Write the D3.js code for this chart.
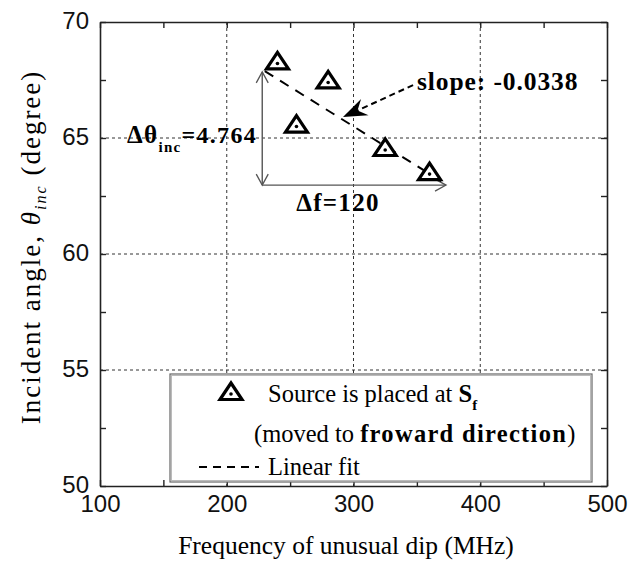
<!DOCTYPE html>
<html><head><meta charset="utf-8">
<script src="https://cdn.jsdelivr.net/npm/d3@7"></script>
<style>
html,body{margin:0;padding:0;background:#fff;}
svg{display:block;}
</style></head>
<body>
<svg id="chart" width="631" height="562"></svg>
<script>
// ---- data ----
const freq = [240, 280, 255, 325, 360];
const angle = [68.3, 67.48, 65.58, 64.57, 63.53];
const fitFreq = [230, 370];
const fitAngle = [67.88, 63.12];
const xTicks = [100, 200, 300, 400, 500];
const yTicks = [50, 55, 60, 65, 70];
const xMinor = [150, 250, 350, 450];
const yMinor = [52.5, 57.5, 62.5, 67.5];
const arrowV = [[228, 67.85], [228, 62.97]];
const arrowH = [[228, 62.97], [373, 62.97]];
const slopeArrow = [[347, 67.28], [291.7, 65.9]];

const svg = d3.select("#chart");
const L = 100, R = 607, T = 22, B = 486;
const x = d3.scaleLinear().domain([100, 500]).range([L, R]);
const y = d3.scaleLinear().domain([50, 70]).range([B, T]);

const serif = "'Liberation Serif','Times New Roman',serif";
const sans = "'Liberation Sans',Arial,sans-serif";

// grid
const g = svg.append("g");
g.selectAll(".gx").data(xTicks.slice(1, -1)).enter().append("line")
  .attr("x1", d => x(d)).attr("x2", d => x(d)).attr("y1", T).attr("y2", B)
  .attr("stroke", "#333").attr("stroke-width", 1).attr("stroke-dasharray", "3,3");
g.selectAll(".gy").data(yTicks.slice(1, -1)).enter().append("line")
  .attr("y1", d => y(d)).attr("y2", d => y(d)).attr("x1", L).attr("x2", R)
  .attr("stroke", "#333").attr("stroke-width", 1).attr("stroke-dasharray", "3,3");

// axes with inward ticks
const tl = 6;
const allX = xTicks.concat(xMinor), allY = yTicks.concat(yMinor);
const axB = svg.append("g").attr("transform", `translate(0,${B})`)
  .call(d3.axisBottom(x).tickValues(allX).tickSizeInner(-tl).tickSizeOuter(0).tickFormat(d => xTicks.includes(d) ? d : ""));
const axT = svg.append("g").attr("transform", `translate(0,${T})`)
  .call(d3.axisTop(x).tickValues(allX).tickSizeInner(-tl).tickSizeOuter(0).tickFormat(""));
const axL = svg.append("g").attr("transform", `translate(${L},0)`)
  .call(d3.axisLeft(y).tickValues(allY).tickSizeInner(-tl).tickSizeOuter(0).tickFormat(d => yTicks.includes(d) ? d : ""));
const axR = svg.append("g").attr("transform", `translate(${R},0)`)
  .call(d3.axisRight(y).tickValues(allY).tickSizeInner(-tl).tickSizeOuter(0).tickFormat(""));
[axB, axT, axL, axR].forEach(a => {
  a.select(".domain").attr("stroke", "#222").attr("stroke-width", 1.6);
  a.selectAll(".tick line").attr("stroke", "#222").attr("stroke-width", 1.4);
  a.selectAll(".tick text").attr("font-family", sans).attr("font-size", 24).attr("fill", "#111");
});
axB.selectAll(".tick text").attr("dy", "0.71em").attr("y", 9);
axL.selectAll(".tick text").attr("x", -11).attr("dy", "0.26em");

// open arrowhead marker
const defs = svg.append("defs");
defs.append("marker").attr("id", "openArrow").attr("viewBox", "-12 -7 14 14")
  .attr("refX", 0).attr("refY", 0).attr("markerWidth", 14).attr("markerHeight", 14)
  .attr("markerUnits", "userSpaceOnUse").attr("orient", "auto-start-reverse")
  .append("path").attr("d", "M-11,-6 L0,0 L-11,6").attr("fill", "none").attr("stroke", "#555").attr("stroke-width", 1.3);

// delta arrows
const lineGen = d3.line().x(d => x(d[0])).y(d => y(d[1]));
svg.append("path").attr("d", lineGen(arrowV)).attr("stroke", "#555").attr("stroke-width", 1.4).attr("fill", "none")
  .attr("marker-start", "url(#openArrow)").attr("marker-end", "url(#openArrow)");
svg.append("path").attr("d", lineGen(arrowH)).attr("stroke", "#555").attr("stroke-width", 1.4).attr("fill", "none")
  .attr("marker-end", "url(#openArrow)");

// fit line
svg.append("path").attr("d", lineGen(fitFreq.map((f, i) => [f, fitAngle[i]])))
  .attr("stroke", "#000").attr("stroke-width", 2).attr("stroke-dasharray", "10,8").attr("fill", "none");

// slope arrow (dashed shaft + filled head)
const sx0 = x(slopeArrow[0][0]), sy0 = y(slopeArrow[0][1]);
const sx1 = x(slopeArrow[1][0]), sy1 = y(slopeArrow[1][1]);
const ang = Math.atan2(sy1 - sy0, sx1 - sx0) * 180 / Math.PI;
const len = Math.hypot(sx1 - sx0, sy1 - sy0);
svg.append("line").attr("x1", sx0).attr("y1", sy0)
  .attr("x2", sx0 + (sx1 - sx0) * (len - 14) / len).attr("y2", sy0 + (sy1 - sy0) * (len - 14) / len)
  .attr("stroke", "#000").attr("stroke-width", 2).attr("stroke-dasharray", "6,4");
svg.append("path").attr("d", "M0,0 L-24,-9 L-16,0 L-24,9 Z").attr("fill", "#000")
  .attr("transform", `translate(${sx1},${sy1}) rotate(${ang})`);

// triangle markers
function tri(sel) {
  sel.append("path").attr("d", "M0,-9 L11,7.5 L-11,7.5 Z")
    .attr("fill", "#fff").attr("stroke", "#000").attr("stroke-width", 3.2).attr("stroke-linejoin", "miter");
  sel.append("circle").attr("cx", 0).attr("cy", 2).attr("r", 1.8).attr("fill", "#000");
}
const pts = svg.selectAll(".pt").data(freq.map((f, i) => [f, angle[i]])).enter().append("g")
  .attr("transform", d => `translate(${x(d[0])},${y(d[1])})`);
tri(pts);

// annotations
const t1 = svg.append("text").attr("x", 257).attr("y", 143).attr("text-anchor", "end")
  .attr("font-family", serif).attr("font-weight", "bold").attr("font-size", 24)
  .attr("letter-spacing", 1.3).attr("fill", "#000");
t1.append("tspan").attr("font-size", 25).text("Δθ");
t1.append("tspan").attr("font-size", 15).attr("dy", 9).text("inc");
t1.append("tspan").attr("dy", -9).text("=4.764");

svg.append("text").attr("x", 338).attr("y", 211).attr("text-anchor", "middle")
  .attr("font-family", serif).attr("font-weight", "bold").attr("font-size", 25)
  .attr("letter-spacing", 1.3).text("Δf=120");

svg.append("text").attr("x", 417).attr("y", 90)
  .attr("font-family", serif).attr("font-weight", "bold").attr("font-size", 25.5)
  .attr("letter-spacing", 0.9).text("slope: -0.0338");

// legend
const lg = svg.append("g");
lg.append("rect").attr("x", 170).attr("y", 374).attr("width", 422).attr("height", 108)
  .attr("fill", "#fff").attr("stroke", "#666").attr("stroke-width", 1.2);
lg.append("rect").attr("x", 171.5).attr("y", 375.5).attr("width", 419).attr("height", 105)
  .attr("fill", "none").attr("stroke", "#bbb").attr("stroke-width", 1);
const lm = lg.append("g").attr("transform", "translate(231,392)");
tri(lm);
const l1 = lg.append("text").attr("x", 268).attr("y", 402).attr("font-family", serif).attr("font-size", 24.5);
l1.append("tspan").text("Source is placed at ");
l1.append("tspan").attr("font-weight", "bold").text("S");
l1.append("tspan").attr("font-weight", "bold").attr("font-size", 15).attr("dy", 8).text("f");
const l2 = lg.append("text").attr("x", 254).attr("y", 442).attr("font-family", serif).attr("font-size", 24.5);
l2.append("tspan").text("(moved to ");
l2.append("tspan").attr("font-weight", "bold").attr("letter-spacing", 1.3).text("froward direction");
l2.append("tspan").text(")");
lg.append("line").attr("x1", 199).attr("x2", 259).attr("y1", 467).attr("y2", 467)
  .attr("stroke", "#000").attr("stroke-width", 2).attr("stroke-dasharray", "8,6");
lg.append("text").attr("x", 268).attr("y", 475).attr("font-family", serif).attr("font-size", 24.5).text("Linear fit");

// axis titles
svg.append("text").attr("x", 346).attr("y", 554).attr("text-anchor", "middle")
  .attr("font-family", serif).attr("font-size", 25.5).text("Frequency of unusual dip (MHz)");
const yt = svg.append("text").attr("transform", "translate(40,247) rotate(-90)").attr("text-anchor", "middle")
  .attr("font-family", serif).attr("font-size", 27).attr("letter-spacing", 2);
yt.append("tspan").text("Incident angle, ");
yt.append("tspan").attr("font-style", "italic").text("θ");
yt.append("tspan").attr("font-style", "italic").attr("font-size", 16).attr("dy", 6).text("inc");
yt.append("tspan").attr("dy", -6).text(" (degree)");
</script>
</body></html>
